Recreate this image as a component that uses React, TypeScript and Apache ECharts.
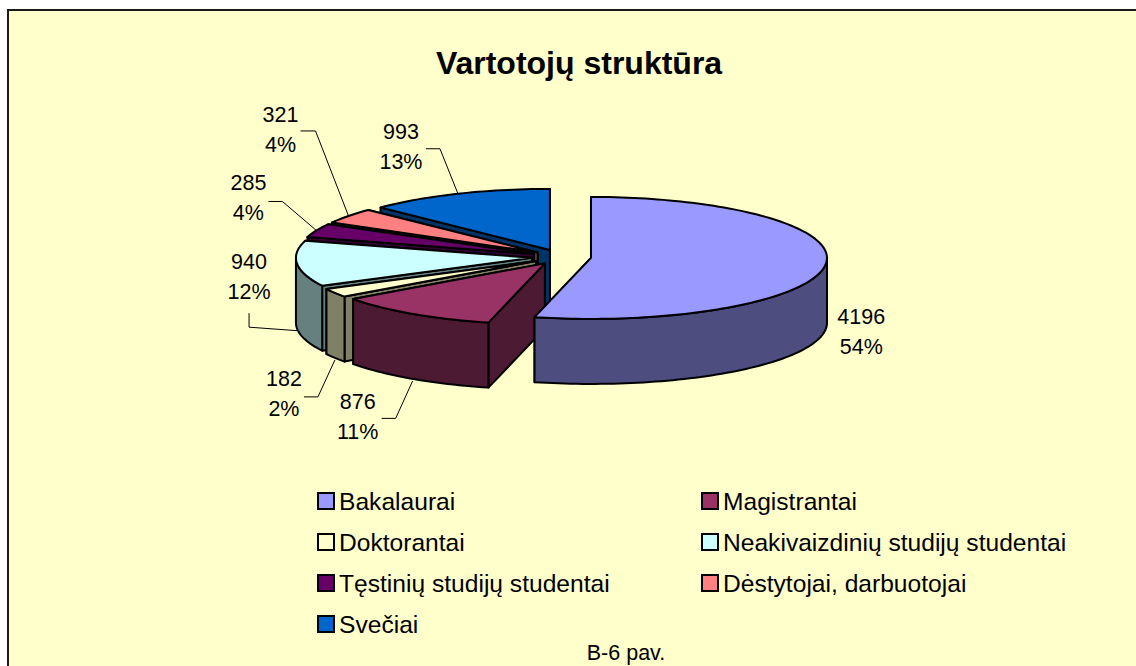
import React, { useEffect, useRef } from "react";
import * as echarts from "echarts";

const categories = [
  "Bakalaurai",
  "Magistrantai",
  "Doktorantai",
  "Neakivaizdinių studijų studentai",
  "Tęstinių studijų studentai",
  "Dėstytojai, darbuotojai",
  "Svečiai",
];
const values = [4196, 876, 182, 940, 285, 321, 993];
const topColors = ["#9999FF", "#993366", "#FFFFCC", "#CCFFFF", "#660066", "#FF8080", "#0066CC"];
const wallColors = ["#4D4D80", "#4D1A33", "#808066", "#668080", "#330033", "#804040", "#003366"];
const legendLeft = [0, 2, 4, 6];
const legendRight = [1, 3, 5];

// Pie geometry
const CX = 561.5;
const CY = 257;
const RX = 236;
const RY = 61;
const DEPTH = 65;
const EXPLODE = 29.7;
const FONT = "'Liberation Sans', Arial, sans-serif";

// Placement of each label and its leader, relative to the rim point of its slice
const labelOffset: [number, number][] = [
  [36, 0],
  [-55, 36.5],
  [-51, 34],
  [-48, -53.5],
  [-68, -32],
  [-68, -86],
  [-57, -47],
];
const leaderOffset: [number, number][][] = [
  [],
  [[-17, 37.5], [-31, 37.5]],
  [[-17, 37], [-31, 37]],
  [[-48, -3.5], [-48, -17.5]],
  [[-34, -29], [-48, -29]],
  [[-33, -85], [-48, -85]],
  [[-18, -45], [-32, -45]],
];
const leaderOnBase = [true, true, true, true, false, false, false];

const total = values.reduce((a, b) => a + b, 0);
const starts: number[] = [];
values.reduce((acc, v, i) => {
  starts[i] = acc;
  return acc + v;
}, 0);

const rad = (d: number) => (d * Math.PI) / 180;

function renderSlice(i: number) {
  return (_params: any, api: any) => {
    const v = api.value(0);
    const a0 = (starts[i] / total) * 360;
    const a1 = a0 + (v / total) * 360;
    const mid = (a0 + a1) / 2;
    const ax = CX + EXPLODE * Math.sin(rad(mid));
    const ay = CY - ((EXPLODE * RY) / RX) * Math.cos(rad(mid));
    const rim = (a: number, dz = 0): [number, number] => [
      ax + RX * Math.sin(rad(a)),
      ay - RY * Math.cos(rad(a)) + dz,
    ];
    const arc = (from: number, to: number, dz = 0) => {
      const pts: [number, number][] = [];
      const n = Math.max(2, Math.ceil(Math.abs(to - from) / 1.5));
      for (let k = 0; k <= n; k++) pts.push(rim(from + ((to - from) * k) / n, dz));
      return pts;
    };
    const edge = { stroke: "#000", lineWidth: 2, lineJoin: "round" };
    const wall = { ...edge, fill: wallColors[i] };
    const children: any[] = [];
    const radial = (a: number) => ({
      type: "polygon",
      shape: { points: [[ax, ay], rim(a), rim(a, DEPTH), [ax, ay + DEPTH]] },
      style: wall,
    });
    children.push(radial(a1), radial(a0));
    const f0 = Math.max(a0, 90);
    const f1 = Math.min(a1, 270);
    if (f1 > f0) {
      children.push({
        type: "polygon",
        shape: { points: [...arc(f0, f1), ...arc(f1, f0, DEPTH)] },
        style: wall,
      });
    }
    children.push({
      type: "polygon",
      shape: { points: [[ax, ay], ...arc(a0, a1)] },
      style: { ...edge, fill: topColors[i] },
    });

    const anchor = rim(mid, leaderOnBase[i] ? DEPTH + 2 : 0);
    if (leaderOffset[i].length) {
      children.push({
        type: "polyline",
        shape: {
          points: [anchor, ...leaderOffset[i].map((o) => [anchor[0] + o[0], anchor[1] + o[1]])],
        },
        style: { stroke: "#000", lineWidth: 1, fill: "none" },
      });
    }
    children.push({
      type: "text",
      style: {
        text: `${v}\n${Math.round((v / total) * 100)}%`,
        x: anchor[0] + labelOffset[i][0],
        y: anchor[1] + labelOffset[i][1],
        align: "center",
        verticalAlign: "middle",
        fontSize: 21.5,
        lineHeight: 30,
        fontFamily: FONT,
        fill: "#000",
      },
    });
    return { type: "group", children };
  };
}

export default function App() {
  const ref = useRef<HTMLDivElement>(null);
  useEffect(() => {
    const chart = echarts.init(ref.current!, undefined, { renderer: "svg" });
    const legendBase = {
      orient: "vertical",
      itemWidth: 16,
      itemHeight: 16,
      itemGap: 9,
      selectedMode: false,
      icon: "rect",
      itemStyle: { borderColor: "#000", borderWidth: 2 },
      textStyle: { fontSize: 24.6, lineHeight: 26, fontFamily: FONT, color: "#000", padding: [0, 0, 6, 0] },
    };
    chart.setOption({
      animation: false,
      backgroundColor: "#FFFFFF",
      title: [
        {
          text: "Vartotojų struktūra",
          left: 574,
          top: 42,
          textAlign: "center",
          textStyle: { fontSize: 32, fontWeight: "bold", fontFamily: FONT, color: "#000" },
        },
        {
          text: "B-6 pav.",
          left: 621,
          top: 637,
          textAlign: "center",
          textStyle: { fontSize: 21.5, fontWeight: "normal", fontFamily: FONT, color: "#000" },
        },
      ],
      legend: [
        { ...legendBase, left: 312, top: 480, data: legendLeft.map((i) => categories[i]) },
        { ...legendBase, left: 696, top: 480, data: legendRight.map((i) => categories[i]) },
      ],
      graphic: [
        {
          type: "rect",
          z: -10,
          shape: { x: 8, y: 10, width: 1150, height: 680 },
          style: { fill: "#FFFFCC", stroke: "#1a1a1a", lineWidth: 2 },
        },
      ],
      // back-to-front, so nearer slices cover farther ones
      series: categories
        .map((name, i) => ({
          type: "custom",
          name,
          coordinateSystem: "none",
          silent: true,
          clip: false,
          itemStyle: { color: topColors[i] },
          renderItem: renderSlice(i),
          data: [[values[i]]],
        }))
        .reverse(),
    });
    return () => chart.dispose();
  }, []);
  return <div ref={ref} style={{ position: "fixed", left: 0, top: 0, width: 1136, height: 666 }} />;
}
